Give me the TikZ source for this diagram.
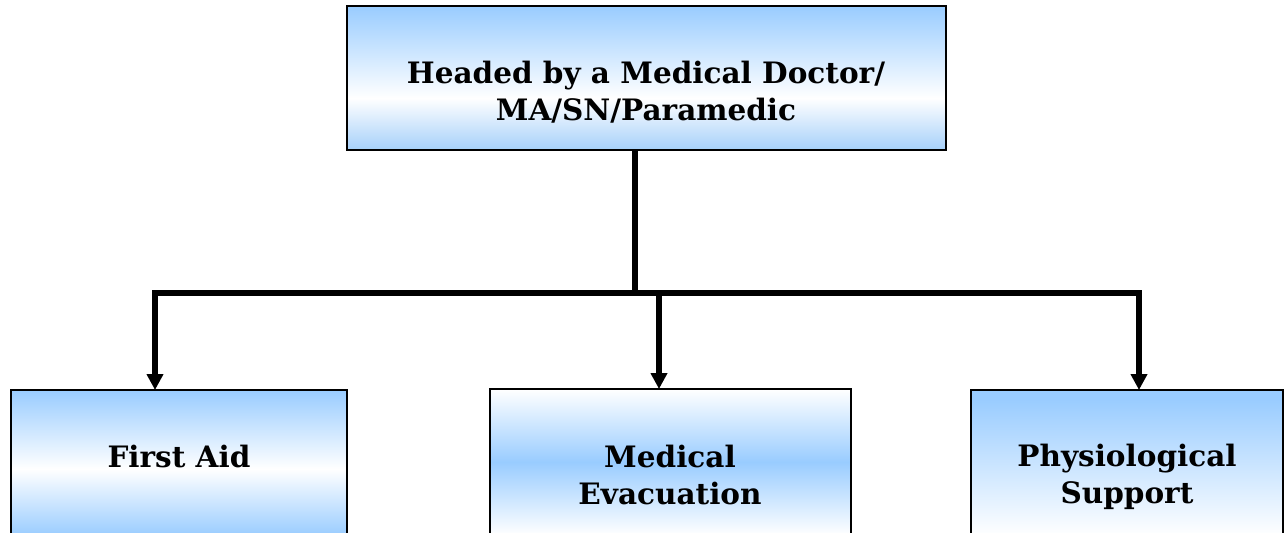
\documentclass[tikz,border=0pt]{standalone}
\usepackage{fontspec}
\setmainfont{DejaVu Serif}
\usetikzlibrary{arrows.meta}
\definecolor{bl}{RGB}{153,204,255}
\definecolor{blb}{RGB}{166,208,250}
\pgfdeclareverticalshading{shtop}{100bp}{color(0bp)=(blb); color(25bp)=(blb); color(43bp)=(white); color(75bp)=(bl); color(100bp)=(bl)}
\pgfdeclareverticalshading{shfa}{100bp}{color(0bp)=(bl); color(25bp)=(bl); color(48bp)=(white); color(75bp)=(bl); color(100bp)=(bl)}
\pgfdeclareverticalshading{shme}{100bp}{color(0bp)=(white); color(25bp)=(white); color(50bp)=(bl); color(75bp)=(white); color(100bp)=(white)}
\pgfdeclareverticalshading{shps}{100bp}{color(0bp)=(white); color(25bp)=(white); color(72bp)=(bl); color(75bp)=(bl); color(100bp)=(bl)}
\tikzset{
  box/.style={draw=black, line width=1.6pt, inner sep=0pt, outer sep=0pt},
  txt/.style={align=center, font=\fontsize{29.5}{37}\selectfont\bfseries, inner sep=0pt},
  conn/.style={line width=6pt, draw=black},
  arr/.style={conn, -{Triangle[width=16pt,length=16pt]}},
}
\begin{document}
\begin{tikzpicture}[x=1pt,y=-1pt]
\useasboundingbox (0,0) rectangle (1286,533);
\clip (0,0) rectangle (1286,533);
\fill[white] (0,0) rectangle (1286,533);
% boxes
\node[box, shading=shtop, minimum width=599pt, minimum height=144pt] (top) at (646.5,78) {};
\node[box, shading=shfa, minimum width=336pt, minimum height=146pt] (fa) at (179,463) {};
\node[box, shading=shme, minimum width=361pt, minimum height=146pt] (me) at (670.5,462) {};
\node[box, shading=shps, minimum width=312pt, minimum height=146pt] (ps) at (1127,463) {};
% texts
\node[txt] (ttop) at (646,92) {Headed by a Medical Doctor/\\MA/SN/Paramedic};
\node[txt] (tfa) at (179,456) {First Aid};
\node[txt] (tme) at (670,475) {Medical\\Evacuation};
\node[txt] (tps) at (1127,477) {Physiological\\Support};
% connectors
\coordinate (j) at (635,293);
\coordinate (h1) at (155,293);
\coordinate (h2) at (659,293);
\coordinate (h3) at (1139,293);
\draw[conn] (top.south -| j) -- (j);
\draw[arr] (j) -- (h1) -- (h1 |- fa.north);
\draw[arr] (j) -- (h3) -- (h3 |- ps.north);
\draw[arr] (h2) -- (h2 |- me.north);
\end{tikzpicture}
\end{document}
